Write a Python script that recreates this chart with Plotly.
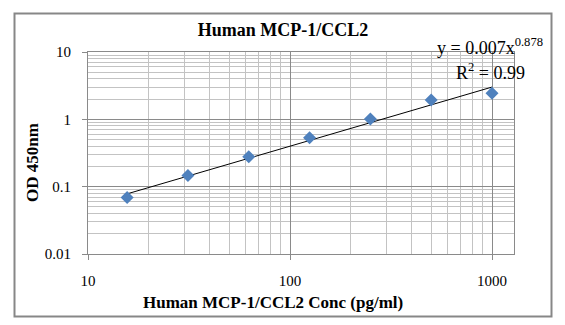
import numpy as np
import plotly.graph_objects as go

# ---- data ----
conc = [15.625, 31.25, 62.5, 125, 250, 500, 1000]          # pg/ml
od450 = [0.069, 0.147, 0.279, 0.533, 1.01, 1.94, 2.43]     # OD 450nm
fit_a = 0.007
fit_b = 0.878
r_squared = "0.99"

x_tickvals = [10, 100, 1000]
x_ticktext = ["10", "100", "1000"]
y_tickvals = [0.01, 0.1, 1, 10]
y_ticktext = ["0.01", "0.1", "1", "10"]
x_minor = [m * 10 ** d for d in (1, 2) for m in range(2, 10)]
y_minor = [m * 10.0 ** d for d in (-2, -1, 0) for m in range(2, 10)]

title_text = "Human MCP-1/CCL2"
x_title = "Human MCP-1/CCL2 Conc (pg/ml)"
y_title = "OD 450nm"

SERIF = "Liberation Serif, Times New Roman, serif"
MAJOR = "#8a8a8a"
MINOR = "#c3c3c3"

fit_x = np.array([conc[0], conc[-1]])
fit_y = fit_a * fit_x ** fit_b

fig = go.Figure()
fig.add_trace(go.Scatter(x=fit_x, y=fit_y, mode="lines",
                         line=dict(color="black", width=1), showlegend=False))
fig.add_trace(go.Scatter(x=conc, y=od450, mode="markers",
                         marker=dict(symbol="diamond", size=10, color="#4F81BD",
                                     line=dict(width=0)),
                         showlegend=False))

axis_common = dict(
    type="log", showgrid=True, gridcolor=MAJOR, gridwidth=1,
    showline=True, linecolor=MAJOR, linewidth=1, mirror=True,
    ticks="outside", ticklen=5, tickcolor=MAJOR, zeroline=False,
    tickfont=dict(family=SERIF, size=15, color="black"),
)

fig.update_xaxes(range=[1, np.log10(1285)], tickmode="array",
                 tickvals=x_tickvals, ticktext=x_ticktext,
                 minor=dict(tickmode="array", tickvals=x_minor, showgrid=True,
                            gridcolor=MINOR, gridwidth=1, ticks=""),
                 ticklabelstandoff=8, **axis_common)
fig.update_yaxes(range=[-2, 1], tickmode="array",
                 tickvals=y_tickvals, ticktext=y_ticktext,
                 minor=dict(tickmode="array", tickvals=y_minor, showgrid=True,
                            gridcolor=MINOR, gridwidth=1, ticks=""),
                 ticklabelstandoff=8, **axis_common)

fig.update_layout(
    width=565, height=325,
    margin=dict(l=88, r=51, t=52, b=71),
    paper_bgcolor="white", plot_bgcolor="white",
    title=dict(text="<b>" + title_text + "</b>", x=0.501, xref="container",
               xanchor="center", y=1 - 30 / 325, yanchor="middle",
               font=dict(family=SERIF, size=18, color="black")),
    annotations=[
        dict(text="<b>" + x_title + "</b>", xref="paper", yref="paper",
             x=(273 - 88) / 426, y=(254 - 302) / 202, xanchor="center",
             yanchor="middle", showarrow=False,
             font=dict(family=SERIF, size=17, color="black")),
        dict(text="<b>" + y_title + "</b>", xref="paper", yref="paper",
             x=(32 - 88) / 426, y=(254 - 162) / 202, xanchor="center",
             yanchor="middle", textangle=-90, showarrow=False,
             font=dict(family=SERIF, size=17, color="black")),
        dict(text="y = %.3fx<sup>%.3f</sup>" % (fit_a, fit_b), xref="paper", yref="paper",
             x=(490 - 88) / 426, y=(254 - 47) / 202, xanchor="center",
             yanchor="middle", showarrow=False,
             font=dict(family=SERIF, size=18, color="black")),
        dict(text="R<sup>2</sup> = " + r_squared, xref="paper", yref="paper",
             x=(490 - 88) / 426, y=(254 - 71) / 202, xanchor="center",
             yanchor="middle", showarrow=False,
             font=dict(family=SERIF, size=18, color="black")),
    ],
    shapes=[dict(type="rect", xref="paper", yref="paper",
                 x0=(14.5 - 88) / 426, x1=(551.5 - 88) / 426,
                 y0=(254 - 316.5) / 202, y1=(254 - 13.5) / 202,
                 line=dict(color="#878787", width=2), layer="below")],
)

fig.write_html("out.html")
